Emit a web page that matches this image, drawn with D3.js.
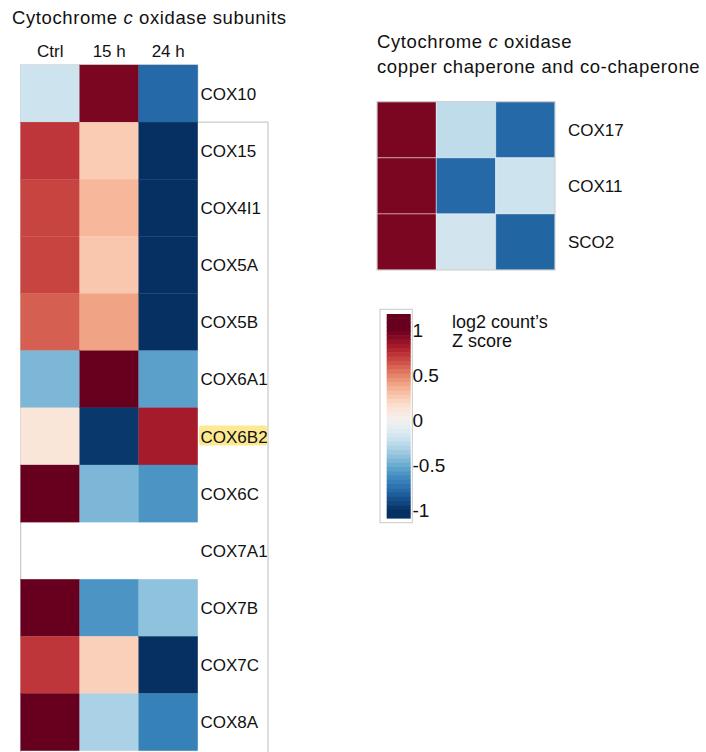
<!DOCTYPE html>
<html>
<head>
<meta charset="utf-8">
<script src="https://cdn.jsdelivr.net/npm/d3@7"></script>
<style>
  html, body { margin: 0; padding: 0; background: #fff; }
  svg { display: block; font-family: "Liberation Sans", Arial, Helvetica, sans-serif; }
</style>
</head>
<body>
<svg id="chart" width="706" height="752"></svg>
<script>
// Sample columns
const conditions = ["Ctrl", "15 h", "24 h"];

// Subunit genes (first gene sits in its own panel)
const subunitGenes = ["COX10", "COX15", "COX4I1", "COX5A", "COX5B", "COX6A1",
                      "COX6B2", "COX6C", "COX7A1", "COX7B", "COX7C", "COX8A"];
// Z scores per gene: [Ctrl, 15 h, 24 h]; null = no value
const subunitZ = [
  [-0.20,  0.95, -0.78],
  [ 0.72,  0.25, -1.00],
  [ 0.68,  0.33, -1.00],
  [ 0.68,  0.27, -1.00],
  [ 0.60,  0.40, -1.00],
  [-0.45,  1.00, -0.55],
  [ 0.12, -0.97,  0.82],
  [ 1.00, -0.45, -0.60],
  [ null,  null,  null],
  [ 1.00, -0.60, -0.40],
  [ 0.72,  0.23, -1.00],
  [ 1.00, -0.32, -0.68]
];
const highlightedGene = "COX6B2";

// Copper chaperone / co-chaperone genes
const chaperoneGenes = ["COX17", "COX11", "SCO2"];
const chaperoneZ = [
  [0.95, -0.25, -0.78],
  [0.95, -0.78, -0.20],
  [0.95, -0.18, -0.80]
];

// Colour legend ticks
const legendTicks = [1, 0.5, 0, -0.5, -1];
const legendTitle = ["log2 count\u2019s", "Z score"];

const svg = d3.select("#chart");
const frameColor = "#c9c9c9";

const color = d3.scaleSequential(t => d3.interpolateRdBu(1 - t))
  .domain([-1, 1]).clamp(true);

// ---------- Left heatmap: subunits ----------
const xL = d3.scaleBand().domain(conditions).range([20.7, 197.7]);
const yL = d3.scaleBand().domain(subunitGenes).range([65, 750.7]);

function titleText(x, y, parts) {
  const t = svg.append("text")
    .attr("x", x).attr("y", y)
    .attr("font-size", 18.5).attr("letter-spacing", 0.6).attr("fill", "#111");
  parts.forEach(p => t.append("tspan").attr("font-style", p.italic ? "italic" : null).text(p.text));
}

titleText(12, 24, [{text: "Cytochrome "}, {text: "c", italic: true}, {text: " oxidase subunits"}]);

svg.append("g").selectAll("text").data(conditions).join("text")
  .attr("x", d => xL(d) + xL.bandwidth() / 2)
  .attr("y", 57)
  .attr("text-anchor", "middle")
  .attr("font-size", 17).attr("fill", "#111")
  .text(d => d);

// panel frames
svg.append("rect")
  .attr("x", xL.range()[0]).attr("y", yL(subunitGenes[0]))
  .attr("width", xL.range()[1] - xL.range()[0]).attr("height", yL.bandwidth())
  .attr("fill", "none").attr("stroke", frameColor).attr("stroke-width", 1.2);
svg.append("rect")
  .attr("x", xL.range()[0]).attr("y", yL(subunitGenes[1]))
  .attr("width", 268 - xL.range()[0]).attr("height", 760 - yL(subunitGenes[1]))
  .attr("fill", "none").attr("stroke", frameColor).attr("stroke-width", 1.2);

const cellsL = [];
subunitGenes.forEach((g, i) => conditions.forEach((c, j) => {
  if (subunitZ[i][j] !== null) cellsL.push({gene: g, cond: c, z: subunitZ[i][j]});
}));

svg.append("g").selectAll("rect").data(cellsL).join("rect")
  .attr("x", d => xL(d.cond))
  .attr("y", d => yL(d.gene))
  .attr("width", xL.bandwidth())
  .attr("height", yL.bandwidth())
  .attr("fill", d => color(d.z))
  .attr("stroke", d => color(d.z)).attr("stroke-width", 0.3);

// highlight behind the gene of interest
svg.append("rect")
  .attr("x", 199).attr("y", yL(highlightedGene) + yL.bandwidth() / 2 - 11)
  .attr("width", 68.5).attr("height", 20)
  .attr("rx", 3).attr("fill", "#fde992");

svg.append("g").selectAll("text").data(subunitGenes).join("text")
  .attr("x", 200.5)
  .attr("y", d => yL(d) + yL.bandwidth() / 2)
  .attr("dy", "0.36em")
  .attr("font-size", 17).attr("fill", "#111")
  .text(d => d);

// ---------- Right heatmap: copper chaperones ----------
titleText(377, 48, [{text: "Cytochrome "}, {text: "c", italic: true}, {text: " oxidase"}]);
titleText(377, 72.5, [{text: "copper chaperone and co-chaperone"}]);

const xR = d3.scaleBand().domain(conditions).range([377, 555]);
const yR = d3.scaleBand().domain(chaperoneGenes).range([101.7, 270]);

const cellsR = [];
chaperoneGenes.forEach((g, i) => conditions.forEach((c, j) => {
  cellsR.push({gene: g, cond: c, z: chaperoneZ[i][j]});
}));

svg.append("g").selectAll("rect").data(cellsR).join("rect")
  .attr("x", d => xR(d.cond))
  .attr("y", d => yR(d.gene))
  .attr("width", xR.bandwidth())
  .attr("height", yR.bandwidth())
  .attr("fill", d => color(d.z))
  .attr("stroke", "rgba(255,255,255,0.35)").attr("stroke-width", 1.2);

svg.append("rect")
  .attr("x", 377).attr("y", 101.7).attr("width", 178).attr("height", 168.3)
  .attr("fill", "none").attr("stroke", frameColor).attr("stroke-width", 1);

svg.append("g").selectAll("text").data(chaperoneGenes).join("text")
  .attr("x", 568)
  .attr("y", d => yR(d) + yR.bandwidth() / 2)
  .attr("dy", "0.36em")
  .attr("font-size", 17).attr("fill", "#111")
  .text(d => d);

// ---------- Colour legend ----------
const yLeg = d3.scaleLinear().domain([-1, 1]).range([510, 330]);
const barTop = 314, barBottom = 518, barX = 386.7, barW = 24;

svg.append("rect")
  .attr("x", 380).attr("y", 309.3).attr("width", 32.3).attr("height", 213.4)
  .attr("fill", "#fff").attr("stroke", frameColor).attr("stroke-width", 1);

const nBands = 48;
const bandH = (barBottom - barTop) / nBands;
const bands = d3.range(nBands).map(i => barTop + i * bandH);
svg.append("g").selectAll("rect").data(bands).join("rect")
  .attr("x", barX).attr("y", d => d)
  .attr("width", barW).attr("height", bandH + 0.6)
  .attr("fill", d => color(yLeg.invert(d + bandH / 2)));

svg.append("g").selectAll("text").data(legendTicks).join("text")
  .attr("x", 412.5)
  .attr("y", d => yLeg(d))
  .attr("dy", "0.36em")
  .attr("font-size", 19).attr("fill", "#111")
  .text(d => d);

svg.append("g").selectAll("text").data(legendTitle).join("text")
  .attr("x", 452)
  .attr("y", (d, i) => 328 + i * 18.5)
  .attr("font-size", 18).attr("fill", "#111")
  .text(d => d);
</script>
</body>
</html>
